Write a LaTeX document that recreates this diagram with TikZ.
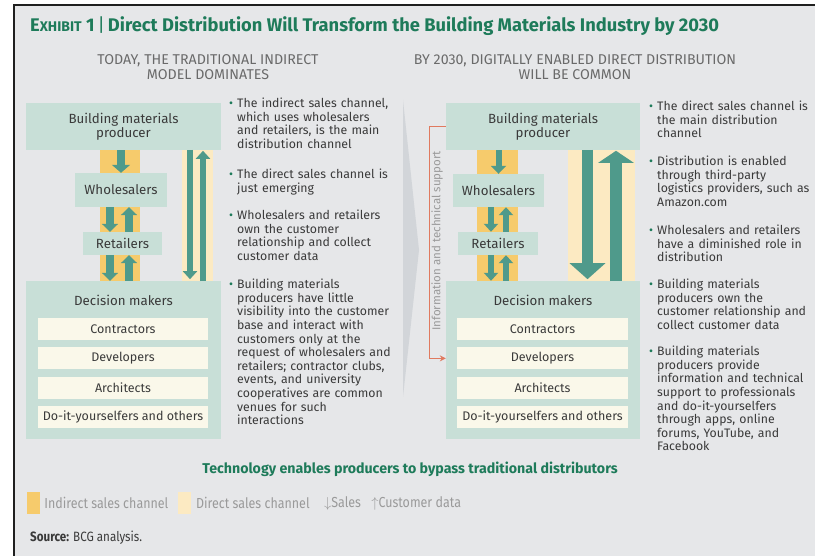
\documentclass[tikz,border=0pt]{standalone}
\usepackage{fontspec}
\setmainfont{Fira Sans}
\newfontfamily\condensed[FakeStretch=0.86]{Fira Sans}
\usetikzlibrary{arrows.meta,positioning}

\definecolor{bcggreen}{HTML}{1E7B5A}
\definecolor{panel}{HTML}{E6E7E9}
\definecolor{frame}{HTML}{1F1F1F}
\definecolor{tealbox}{HTML}{C8DFD7}
\definecolor{tealarrow}{HTML}{4F9A8B}
\definecolor{indirect}{HTML}{F6CB6C}
\definecolor{direct}{HTML}{FCEAC2}
\definecolor{cream}{HTML}{FAF8EA}
\definecolor{ink}{HTML}{3A3A3A}
\definecolor{soft}{HTML}{6A6A6A}
\definecolor{faint}{HTML}{9A9A9A}
\definecolor{support}{HTML}{E07A5F}
\definecolor{chevron}{HTML}{D2D5D9}

\newcommand{\bulletitem}[1]{\leftskip=8pt\noindent\hspace*{-8pt}\makebox[8pt][l]{\textcolor{bcggreen}{\textbullet}}#1\par}

\begin{document}
\begin{tikzpicture}[x=1pt, y=-1pt,
    box/.style={fill=tealbox, text=ink, align=center, inner sep=0pt, font=\fontsize{13.3}{14.5}\selectfont},
    member/.style={fill=cream, text=ink, inner sep=0pt, minimum height=22pt, font=\fontsize{12.5}{14}\selectfont},
    lane/.style={inner sep=0pt, minimum height=131pt},
    flow/.style 2 args={draw=tealarrow, line width=#1, -{Triangle[width=#2, length=8pt]}},
    point/.style={anchor=north west, inner sep=0pt, text width=200pt, align=left, text=ink, font=\fontsize{12.3}{13.6}\selectfont},
    support/.style={draw=support, line width=1.3pt, -{Stealth[length=6pt, width=6pt]}},
    keytext/.style={inner sep=0pt, text=faint, font=\condensed\fontsize{14.5}{16}\selectfont},
    swatch/.style={inner sep=0pt, minimum width=13pt, minimum height=22pt},
  ]
  \useasboundingbox (0, 0) rectangle (815, 556);
  \fill[white] (0, 0) rectangle (815, 556);
  \draw[draw=frame, fill=panel, line width=1.3pt] (14, 5) rectangle (840, 590);

  \node[anchor=west, inner sep=0pt, text=bcggreen, font=\bfseries\fontsize{18.3}{21}\selectfont] (title) at (30, 26)
    {E{\fontsize{14}{16}\selectfont XHIBIT} 1\,{\mdseries|}\,Direct Distribution Will Transform the Building Materials Industry by 2030};
  \node[align=center, text=soft, font=\fontsize{14.2}{15.5}\selectfont] (subL) at (208, 67) {TODAY, THE TRADITIONAL INDIRECT\\MODEL DOMINATES};
  \node[align=center, text=soft, font=\fontsize{14.2}{15.5}\selectfont] (subR) at (575, 67) {BY 2030, DIGITALLY ENABLED DIRECT DISTRIBUTION\\WILL BE COMMON};

  \fill[chevron] (403, 100) -- (419, 250) -- (403, 397) -- cycle;

  % today
  \node[lane, fill=indirect, minimum width=40pt] (indL) at (120, 215.5) {};
  \node[lane, fill=direct, minimum width=31pt] (dirL) at (197.5, 215.5) {};
  \node[box, minimum width=195pt, minimum height=47pt] (prodL) at (123.5, 126.5) {Building materials\\producer};
  \node[box, minimum width=92pt, minimum height=34pt] (wholL) at (121, 190) {Wholesalers};
  \node[box, minimum width=79pt, minimum height=23pt] (retL) at (122.5, 243.5) {Retailers};
  \node[box, minimum width=195pt, minimum height=158pt] (decL) at (123.5, 360) {};
  \node[box, fill=none] (dmL) at (123.5, 300) {Decision makers};
  \node[member, minimum width=170pt] (conL) at (123, 329) {Contractors};
  \node[member, minimum width=170pt, below=7pt of conL] (devL) {Developers};
  \node[member, minimum width=170pt, below=7pt of devL] (arcL) {Architects};
  \node[member, minimum width=170pt, below=7pt of arcL] (diyL) {Do-it-yourselfers and others};

  \draw[flow={8pt}{18pt}] (prodL.south -| wholL.north) -- (wholL.north);
  \draw[flow={8pt}{16pt}] ([xshift=-11pt]wholL.south) -- ([xshift=-11pt]wholL.south |- retL.north);
  \draw[flow={8pt}{16pt}] ([xshift=8pt]wholL.south |- retL.north) -- ([xshift=8pt]wholL.south);
  \draw[flow={8pt}{16pt}] ([xshift=-11pt]wholL.south |- retL.south) -- ([xshift=-11pt]wholL.south |- decL.north);
  \draw[flow={8pt}{16pt}] ([xshift=8pt]wholL.south |- decL.north) -- ([xshift=8pt]wholL.south |- retL.south);
  \draw[flow={6pt}{14pt}, shorten >=2pt] ([xshift=-7.5pt]dirL.north) -- ([xshift=-7.5pt]dirL.south);
  \draw[flow={6pt}{14pt}, shorten >=1pt] ([xshift=5.5pt]dirL.south) -- ([xshift=5.5pt]dirL.north);

  \node[point] (ptL1) at (229, 98) {\bulletitem{The indirect sales channel,\\which uses wholesalers\\and retailers, is the main\\distribution channel}};
  \node[point] (ptL2) at (229, 169) {\bulletitem{The direct sales channel is\\just emerging}};
  \node[point] (ptL3) at (229, 210) {\bulletitem{Wholesalers and retailers\\own the customer\\relationship and collect\\customer data}};
  \node[point] (ptL4) at (229, 279) {\bulletitem{Building materials\\producers have little\\visibility into the customer\\base and interact with\\customers only at the\\request of wholesalers and\\retailers; contractor clubs,\\events, and university\\cooperatives are common\\venues for such\\interactions}};

  % by 2030
  \node[lane, fill=indirect, minimum width=41pt] (indR) at (497.5, 215.5) {};
  \node[lane, fill=direct, minimum width=67pt] (dirR) at (601.5, 215.5) {};
  \node[box, minimum width=194pt, minimum height=47pt] (prodR) at (543, 126.5) {Building materials\\producer};
  \node[box, minimum width=91pt, minimum height=33pt] (wholR) at (498.5, 190.5) {Wholesalers};
  \node[box, minimum width=80pt, minimum height=23pt] (retR) at (498, 243.5) {Retailers};
  \node[box, minimum width=194pt, minimum height=158pt] (decR) at (543, 360) {};
  \node[box, fill=none] (dmR) at (543, 300) {Decision makers};
  \node[member, minimum width=171pt] (conR) at (542.5, 329) {Contractors};
  \node[member, minimum width=171pt, below=7pt of conR] (devR) {Developers};
  \node[member, minimum width=171pt, below=7pt of devR] (arcR) {Architects};
  \node[member, minimum width=171pt, below=7pt of arcR] (diyR) {Do-it-yourselfers and others};

  \draw[flow={6pt}{15pt}] (prodR.south -| wholR.north) -- (wholR.north);
  \draw[flow={6pt}{14pt}] ([xshift=-7.5pt]wholR.south) -- ([xshift=-7.5pt]wholR.south |- retR.north);
  \draw[flow={6pt}{14pt}] ([xshift=7.5pt]wholR.south |- retR.north) -- ([xshift=7.5pt]wholR.south);
  \draw[flow={6pt}{14pt}] ([xshift=-7.5pt]wholR.south |- retR.south) -- ([xshift=-7.5pt]wholR.south |- decR.north);
  \draw[flow={6pt}{14pt}] ([xshift=7.5pt]wholR.south |- decR.north) -- ([xshift=7.5pt]wholR.south |- retR.south);
  \draw[draw=tealarrow, line width=11pt, -{Triangle[width=35pt, length=16pt]}, shorten >=2pt] ([xshift=-14pt]dirR.north) -- ([xshift=-14pt]dirR.south);
  \draw[draw=tealarrow, line width=12pt, -{Triangle[width=35pt, length=12pt]}, shorten >=1pt] ([xshift=14.5pt]dirR.south) -- ([xshift=14.5pt]dirR.north);

  \draw[support] (prodR.west) -- ++(-16, 0) |- (decR.west |- devR);
  \node[rotate=90, inner sep=0pt, text=faint, font=\fontsize{11.5}{13}\selectfont] (infoR) at (437, 241) {Information and technical support};

  \node[point] (ptR1) at (649, 101) {\bulletitem{The direct sales channel is\\the main distribution\\channel}};
  \node[point] (ptR2) at (649, 156) {\bulletitem{Distribution is enabled\\through third-party\\logistics providers, such as\\Amazon.com}};
  \node[point] (ptR3) at (649, 225) {\bulletitem{Wholesalers and retailers\\have a diminished role in\\distribution}};
  \node[point] (ptR4) at (649, 279) {\bulletitem{Building materials\\producers own the\\customer relationship and\\collect customer data}};
  \node[point] (ptR5) at (649, 346) {\bulletitem{Building materials\\producers provide\\information and technical\\support to professionals\\and do-it-yourselfers\\through apps, online\\forums, YouTube, and\\Facebook}};

  \node[text=bcggreen, font=\bfseries\fontsize{14.2}{16}\selectfont] (tagline) at (410, 469) {Technology enables producers to bypass traditional distributors};

  \node[swatch, fill=indirect] (keyInd) at (33.5, 503) {};
  \node[keytext, right=4pt of keyInd] (keyIndTxt) {Indirect sales channel};
  \node[swatch, fill=direct, right=9pt of keyIndTxt] (keyDir) {};
  \node[keytext, right=5pt of keyDir] (keyDirTxt) {Direct sales channel};
  \node[keytext, right=14pt of keyDirTxt] (keySales) {$\downarrow$Sales};
  \node[keytext, right=10pt of keySales] (keyData) {$\uparrow$Customer data};

  \node[anchor=west, inner sep=0pt, text=ink, font=\condensed\fontsize{13.5}{15}\selectfont] (source) at (30, 538) {\textbf{Source:} BCG analysis.};
\end{tikzpicture}
\end{document}
